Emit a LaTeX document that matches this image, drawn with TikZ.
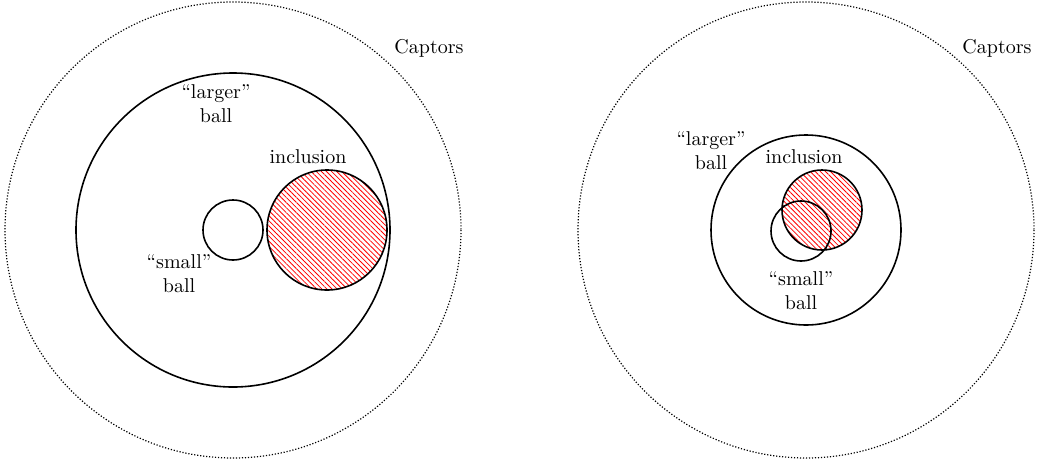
\documentclass[tikz,border=0pt]{standalone}
\usetikzlibrary{patterns.meta}
\begin{document}
\begin{tikzpicture}[x=0.5pt,y=-0.5pt,
  ball/.style={draw,line width=0.8pt},
  captor/.style={draw,line width=0.6pt,dash pattern=on 0.6pt off 0.9pt},
  incl/.style={draw,line width=0.8pt,pattern={Lines[angle=-45,distance=1.8pt,line width=0.4pt]},pattern color=red},
  lbl/.style={align=center,font=\normalsize,inner sep=0pt}]
\useasboundingbox (0,0) rectangle (1037,461);
% left
\draw[captor] (233,230) circle[radius=228];
\draw[ball] (233,230) circle[radius=157];
\draw[ball] (233,230) circle[radius=30];
\draw[incl] (327,230) circle[radius=60];
\node[lbl] (capL) at (429,48) {Captors};
\node[lbl] (largeL) at (216,104) {``larger''\\ball};
\node[lbl] (inclL) at (308,157) {inclusion};
\node[lbl] (smallL) at (179,274) {``small''\\ball};
% right
\draw[captor] (806,230) circle[radius=228];
\draw[ball] (806,230) circle[radius=95];
\draw[incl] (822,210) circle[radius=40];
\draw[ball] (801,231) circle[radius=30];
\node[lbl] (capR) at (997,48) {Captors};
\node[lbl] (largeR) at (711,151) {``larger''\\ball};
\node[lbl] (inclR) at (804,157) {inclusion};
\node[lbl] (smallR) at (801,291) {``small''\\ball};
\end{tikzpicture}
\end{document}
